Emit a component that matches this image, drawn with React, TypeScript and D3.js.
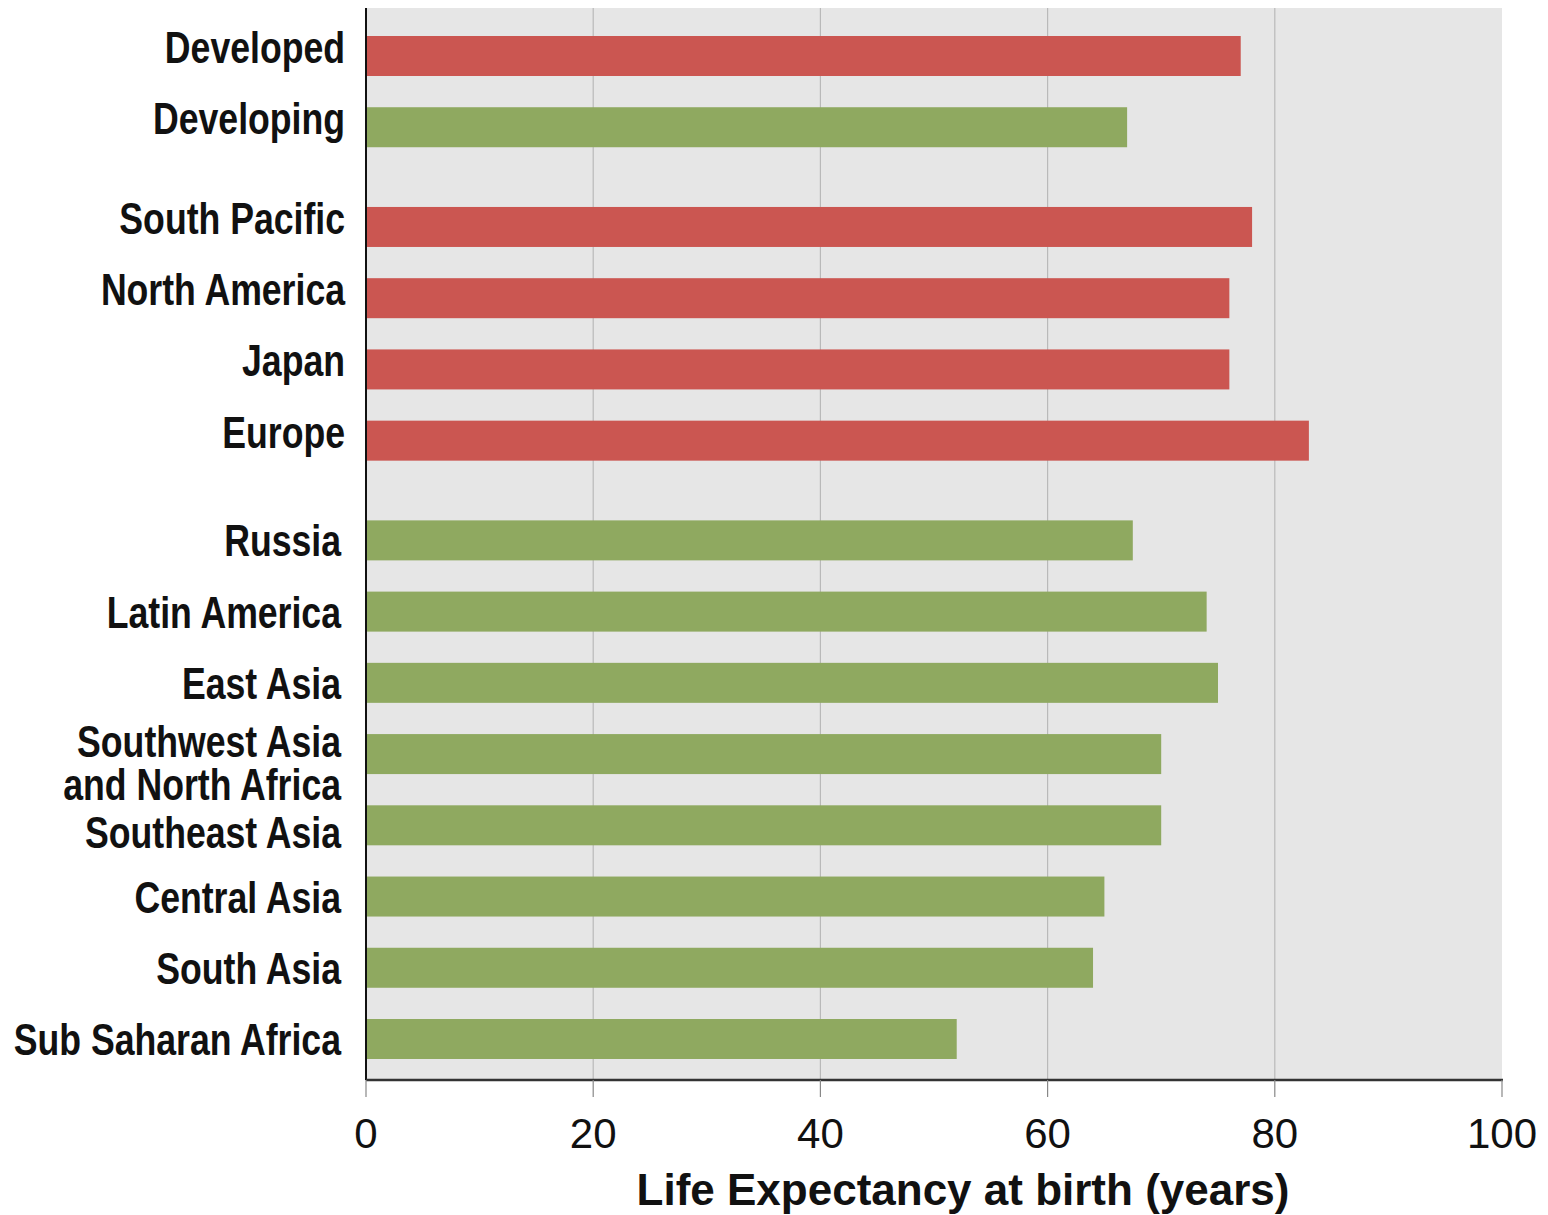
import React, { useRef, useEffect } from 'react';
import * as d3 from 'd3';

// categories top to bottom, grouped
const summaryRegions = ['Developed', 'Developing'];
const summaryValues = [77, 67];
const summaryKinds = ['developed', 'developing'];

const developedRegions = ['South Pacific', 'North America', 'Japan', 'Europe'];
const developedValues = [78, 76, 76, 83];

const developingRegions = [
  'Russia',
  'Latin America',
  'East Asia',
  'Southwest Asia\nand North Africa',
  'Southeast Asia',
  'Central Asia',
  'South Asia',
  'Sub Saharan Africa',
];
const developingValues = [67.5, 74, 75, 70, 70, 65, 64, 52];

const xTicks = [0, 20, 40, 60, 80, 100];
const xTitle = 'Life Expectancy at birth (years)';

interface Row {
  name: string;
  value: number;
  kind: string;
  slot: number;
  group: number;
}

const App: React.FC = () => {
  const svgRef = useRef<SVGSVGElement | null>(null);
  const width = 1548;
  const height = 1215;

  useEffect(() => {
    if (!svgRef.current) return;
    const svg = d3.select(svgRef.current);
    svg.selectAll('*').remove();

    // build rows, leaving a small gap between groups
    const rows: Row[] = [];
    const groups = [
      { names: summaryRegions, values: summaryValues, kinds: summaryKinds },
      { names: developedRegions, values: developedValues, kinds: developedRegions.map(() => 'developed') },
      { names: developingRegions, values: developingValues, kinds: developingRegions.map(() => 'developing') },
    ];
    let idx = 0;
    groups.forEach((g, gi) => {
      g.names.forEach((n, i) => {
        rows.push({ name: n, value: g.values[i], kind: g.kinds[i], slot: idx + gi * 0.4, group: gi });
        idx++;
      });
    });

    const left = 366;
    const right = 1502;
    const top = 8;
    const bottom = 1080;

    const x = d3.scaleLinear().domain([0, 100]).range([left, right]);
    const maxSlot = d3.max(rows, d => d.slot) as number;
    const y = d3.scaleLinear().domain([0, maxSlot]).range([56, 1039]);
    const barH = 40;

    const color = d3.scaleOrdinal<string, string>()
      .domain(['developed', 'developing'])
      .range(['#cb5651', '#8fa960']);

    // plot background
    svg.append('rect')
      .attr('x', left).attr('y', top)
      .attr('width', right - left).attr('height', bottom - top)
      .attr('fill', '#e6e6e6');

    // gridlines
    svg.selectAll('.grid')
      .data(xTicks.filter(t => t > 0 && t < 100))
      .join('line')
      .attr('x1', d => x(d)).attr('x2', d => x(d))
      .attr('y1', top).attr('y2', bottom)
      .attr('stroke', '#b9b9b9')
      .attr('stroke-width', 1.2);

    // bars
    svg.selectAll('.bar')
      .data(rows)
      .join('rect')
      .attr('x', x(0))
      .attr('y', d => y(d.slot) - barH / 2)
      .attr('width', d => x(d.value) - x(0))
      .attr('height', barH)
      .attr('fill', d => color(d.kind));

    // axes lines
    svg.append('line')
      .attr('x1', left).attr('x2', left)
      .attr('y1', top).attr('y2', bottom)
      .attr('stroke', '#111').attr('stroke-width', 2);
    svg.append('line')
      .attr('x1', left).attr('x2', right + 1)
      .attr('y1', bottom).attr('y2', bottom)
      .attr('stroke', '#333').attr('stroke-width', 2.5);

    // ticks + labels
    svg.selectAll('.tick')
      .data(xTicks)
      .join('line')
      .attr('x1', d => x(d)).attr('x2', d => x(d))
      .attr('y1', bottom).attr('y2', bottom + 17)
      .attr('stroke', '#888').attr('stroke-width', 1.2);

    svg.selectAll('.ticklabel')
      .data(xTicks)
      .join('text')
      .attr('x', d => x(d))
      .attr('y', 1148)
      .attr('text-anchor', 'middle')
      .attr('font-family', '"Liberation Sans", Arial, sans-serif')
      .attr('font-size', 42)
      .attr('fill', '#111')
      .text(d => String(d));

    svg.append('text')
      .attr('x', 963)
      .attr('y', 1205)
      .attr('text-anchor', 'middle')
      .attr('font-family', '"Liberation Sans", Arial, sans-serif')
      .attr('font-weight', 'bold')
      .attr('font-size', 44)
      .attr('fill', '#111')
      .text(xTitle);

    // category labels: bold sans squeezed horizontally to look condensed
    const squeeze = 0.81;
    const labels = svg.selectAll('.cat')
      .data(rows)
      .join('text')
      .attr('text-anchor', 'end')
      .attr('font-family', '"Liberation Sans", Arial, sans-serif')
      .attr('font-weight', 'bold')
      .attr('font-size', 44)
      .attr('fill', '#111')
      .attr('transform', d => `translate(${d.group < 2 ? 345 : 341},0) scale(${squeeze},1)`);

    labels.each(function (d) {
      const lines = d.name.split('\n');
      let cy = y(d.slot);
      if (d.group < 2) cy -= 9;
      if (lines.length > 1) cy -= 13;
      if (d.name === 'Southeast Asia') cy += 7;
      const t = d3.select(this);
      lines.forEach((ln, i) => {
        t.append('tspan')
          .attr('x', 0)
          .attr('y', cy + i * 43 + 16)
          .text(ln);
      });
    });
  }, []);

  return (
    <svg
      ref={svgRef}
      width={width}
      height={height}
      style={{ position: 'absolute', left: 0, top: 0, background: '#fff' }}
    />
  );
};

export default App;
